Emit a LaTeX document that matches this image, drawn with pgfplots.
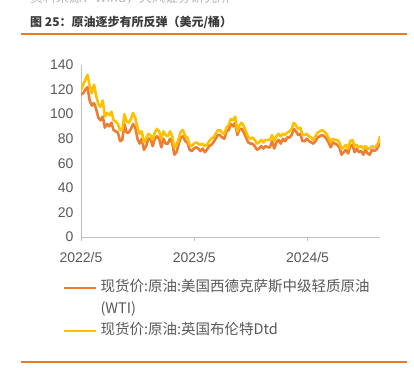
\documentclass[border=0pt]{standalone}
\usepackage{fontspec}
\setmainfont{Liberation Sans}
\newfontfamily\cjk{Noto Sans CJK SC}
\usepackage{pgfplots}
\pgfplotsset{compat=1.18}
\usepackage{pgfplotstable}
\definecolor{wti}{HTML}{ED7D31}
\definecolor{brent}{HTML}{FFC000}
\definecolor{axgray}{HTML}{BFBFBF}
\definecolor{txtgray}{HTML}{595959}
\definecolor{titlegray}{HTML}{3A3A3A}
\definecolor{rulec}{HTML}{F07A1A}
\pgfplotstableread{
w wti brent
0 116 120
1 117 124
2 120 128
3 122 132
4 111 123
5 107 117
6 109 124
7 104 115
8 97 108
9 95 106
10 98 111
11 89 98
12 92 101
13 90 99
14 93 102
15 87 95
16 86 94
17 85 92
18 78 87
19 79 87
20 92 100
21 85 94
22 85 93
23 88 96
24 92 101
25 89 97
26 80 89
27 76 84
28 80 86
29 71 77
30 74 80
31 80 84
32 80 83
33 74 79
34 80 85
35 82 88
36 80 86
37 73 80
38 80 86
39 76 83
40 76 82
41 80 86
42 77 82
43 67 73
44 69 75
45 76 80
46 81 86
47 82 87
48 78 82
49 77 81
50 71 75
51 70 74
52 72 76
53 73 77
54 72 76
55 70 75
56 72 76
57 69 74
58 71 75
59 74 78
60 75 80
61 77 81
62 80 84
63 83 87
64 83 87
65 81 85
66 80 84
67 86 89
68 87 91
69 92 96
70 90 95
71 93 98
72 83 86
73 88 91
74 88 93
75 85 90
76 81 86
77 77 81
78 76 80
79 76 81
80 74 79
81 71 76
82 72 77
83 74 79
84 72 77
85 74 79
86 73 79
87 73 79
88 78 83
89 72 78
90 77 82
91 79 84
92 76 82
93 80 84
94 78 83
95 81 85
96 81 86
97 83 88
98 88 93
99 86 91
100 83 88
101 84 89
102 78 83
103 78 83
104 80 84
105 78 82
106 77 81
107 76 79
108 78 82
109 81 85
110 82 86
111 83 87
112 82 86
113 80 84
114 77 81
115 73 77
116 77 80
117 76 79
118 75 79
119 73 77
120 67 72
121 69 73
122 71 75
123 68 72
124 74 78
125 75 79
126 69 74
127 72 75
128 69 73
129 70 74
130 67 72
131 71 74
132 68 72
133 67 72
134 71 74
135 70 73
136 71 74
137 74 77
137.7 79 82
}\oil
\begin{document}
\begin{tikzpicture}
\path[use as bounding box] (0bp,0bp) rectangle (414bp,368bp);
\node[anchor=base west, text=gray!55, font=\cjk\fontsize{13bp}{15bp}\selectfont, inner sep=0pt] at (30bp,365bp) {资料来源：Wind，天风证券研究所};
\node[anchor=base west, text=titlegray, font=\cjk\bfseries\fontsize{12bp}{14bp}\selectfont, inner sep=0pt] at (30bp,341bp) {图 25：原油逐步有所反弹（美元/桶）};
\draw[rulec, line width=1.5bp] (21bp,334bp) -- (407bp,334bp);
\draw[rulec, line width=1.5bp] (21bp,6bp) -- (407bp,6bp);
\begin{axis}[
  at={(81bp,131bp)}, anchor=south west,
  scale only axis, width=299bp, height=172bp,
  xmin=0, xmax=137.7, ymin=0, ymax=140,
  axis x line*=bottom, axis y line*=left,
  axis line style={axgray, line width=1bp, -},
  xtick={0,52.18,104.36}, xticklabels={2022/5,2023/5,2024/5},
  ytick={0,20,...,140},
  tick align=outside,
  x tick style={axgray, line width=1bp}, major tick length=4bp,
  y tick style={draw=none},
  tick label style={font=\fontsize{14bp}{16bp}\selectfont, text=txtgray},
  xticklabel style={yshift=-8bp},
  /pgf/number format/assume math mode=true,
  legend style={at={(-0.06,-0.255)}, anchor=north west, draw=none, fill=none,
    inner sep=0pt, outer sep=0pt, row sep=7bp, column sep=3bp,
    nodes={inner sep=0pt, text=txtgray, text height=11bp, text depth=3.5bp},
    font=\cjk\fontsize{14.5bp}{17bp}\selectfont},
  legend cell align=left,
  legend image code/.code={\draw[line width=2.5bp] (0bp,0bp) -- (32bp,0bp);},
]
\addplot[wti, line width=2.6bp, line join=round] table[x=w,y=wti]{\oil};
\addlegendentry{现货价:原油:美国西德克萨斯中级轻质原油}
\addlegendimage{empty legend}
\addlegendentry{(WTI)}
\addplot[brent, line width=2.6bp, line join=round] table[x=w,y=brent]{\oil};
\addlegendentry{现货价:原油:英国布伦特Dtd}
\end{axis}
\end{tikzpicture}
\end{document}
